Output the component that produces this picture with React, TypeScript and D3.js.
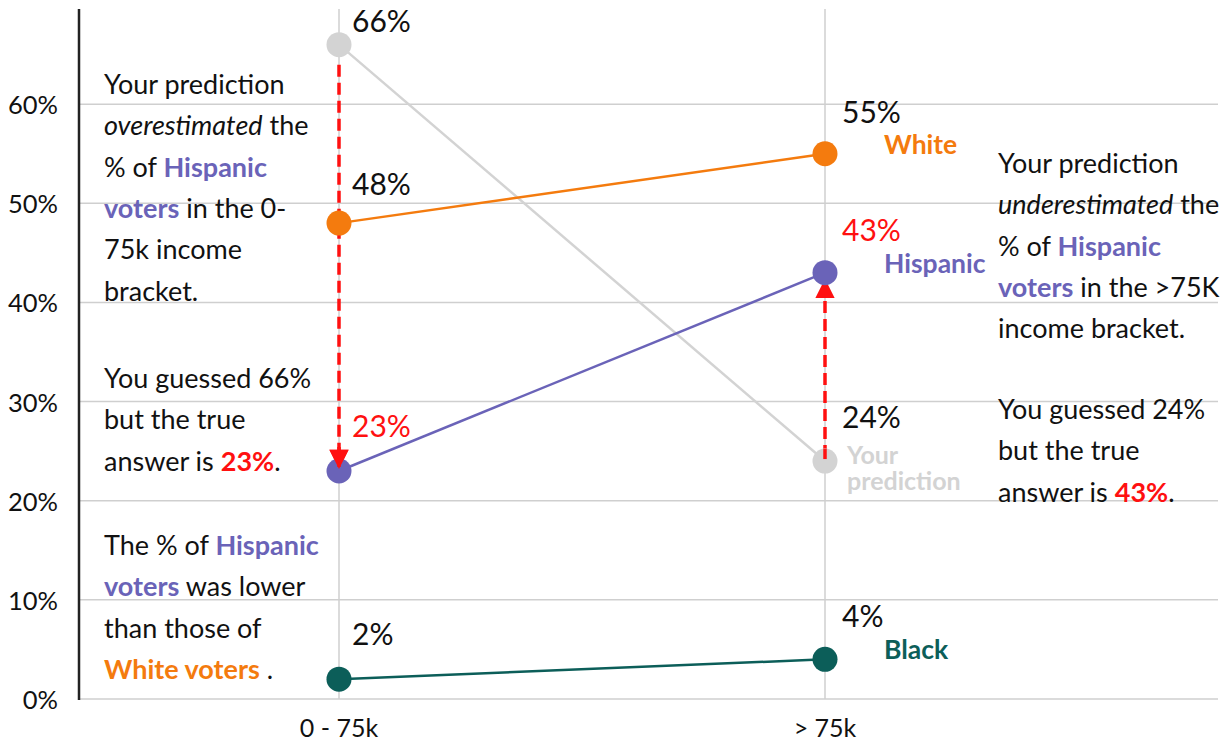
import * as d3 from 'd3';

const incomeBrackets = ['0 - 75k', '> 75k'];
const whiteShare = [48, 55];
const hispanicShare = [23, 43];
const blackShare = [2, 4];
const predictionShare = [66, 24];
const yTicks = [0, 10, 20, 30, 40, 50, 60];

const W = 1229;
const H = 742;
const FONT = 'Lato, "Open Sans", sans-serif';

const C = {
  white: '#f47b0e',
  hispanic: '#6a63b8',
  black: '#0c5e59',
  pred: '#d3d3d3',
  red: '#ff1010',
  grid: '#cfcfcf',
  text: '#111',
};

type Seg = { t: string; c?: string; b?: boolean; i?: boolean };

const leftNotes: Seg[][] = [
  [{ t: 'Your prediction' }],
  [{ t: 'overestimated', i: true }, { t: ' the' }],
  [{ t: '% of ' }, { t: 'Hispanic', c: C.hispanic, b: true }],
  [{ t: 'voters', c: C.hispanic, b: true }, { t: ' in the 0-' }],
  [{ t: '75k income' }],
  [{ t: 'bracket.' }],
];
const leftGuess: Seg[][] = [
  [{ t: 'You guessed 66%' }],
  [{ t: 'but the true' }],
  [{ t: 'answer is ' }, { t: '23%', c: C.red, b: true }, { t: '.' }],
];
const leftCompare: Seg[][] = [
  [{ t: 'The % of ' }, { t: 'Hispanic', c: C.hispanic, b: true }],
  [{ t: 'voters', c: C.hispanic, b: true }, { t: ' was lower' }],
  [{ t: 'than those of' }],
  [{ t: 'White voters', c: C.white, b: true }, { t: ' .' }],
];
const rightNotes: Seg[][] = [
  [{ t: 'Your prediction' }],
  [{ t: 'underestimated', i: true }, { t: ' the' }],
  [{ t: '% of ' }, { t: 'Hispanic', c: C.hispanic, b: true }],
  [{ t: 'voters', c: C.hispanic, b: true }, { t: ' in the >75K' }],
  [{ t: 'income bracket.' }],
];
const rightGuess: Seg[][] = [
  [{ t: 'You guessed 24%' }],
  [{ t: 'but the true' }],
  [{ t: 'answer is ' }, { t: '43%', c: C.red, b: true }, { t: '.' }],
];

function Para({ x, y, lines, lh = 41.3 }: { x: number; y: number; lines: Seg[][]; lh?: number }) {
  return (
    <g>
      {lines.map((line, li) => (
        <text key={li} x={x} y={y + li * lh} fontSize={27} fill={C.text} fontFamily={FONT}>
          {line.map((s, si) => (
            <tspan key={si} fill={s.c || C.text} fontWeight={s.b ? 700 : 400} fontStyle={s.i ? 'italic' : 'normal'}>
              {s.t}
            </tspan>
          ))}
        </text>
      ))}
    </g>
  );
}

export default function App() {
  const x = d3.scalePoint<string>().domain(incomeBrackets).range([339, 825]);
  const y = d3.scaleLinear().domain([0, 70]).range([699, 5]);
  const left = 79;
  const right = 1218;
  const top = y(69.6);

  const line = d3
    .line<number>()
    .x((_, i) => x(incomeBrackets[i]) as number);
  const path = (vals: number[]) => line.y((d) => y(d))(vals) || '';

  const series = [
    { key: 'pred', vals: predictionShare, color: C.pred },
    { key: 'white', vals: whiteShare, color: C.white },
    { key: 'hispanic', vals: hispanicShare, color: C.hispanic },
    { key: 'black', vals: blackShare, color: C.black },
  ];

  const x0 = x(incomeBrackets[0]) as number;
  const x1 = x(incomeBrackets[1]) as number;

  // value label offsets (dy from dot)
  const valueLabels = [
    { vals: predictionShare, color: C.text, dy: [-13, -33] },
    { vals: whiteShare, color: C.text, dy: [-28, -31] },
    { vals: hispanicShare, color: C.red, dy: [-34, -32] },
    { vals: blackShare, color: C.text, dy: [-34, -32] },
  ];

  return (
    <svg
      width={W}
      height={H}
      style={{ position: 'absolute', left: 0, top: 0, background: '#fff' }}
      fontFamily={FONT}
    >
      <defs>
        <marker id="ah" viewBox="0 0 10 10" refX="9" refY="5" markerWidth="6" markerHeight="5.5" orient="auto" markerUnits="strokeWidth">
          <path d="M0,0 L10,5 L0,10 z" fill={C.red} />
        </marker>
      </defs>

      {/* grid */}
      {yTicks.map((t) => (
        <g key={t}>
          <line x1={left} x2={right} y1={y(t)} y2={y(t)} stroke={C.grid} strokeWidth={1.5} />
          <text x={58} y={y(t) + 10} textAnchor="end" fontSize={25.5} fill={C.text}>
            {t}%
          </text>
        </g>
      ))}
      {incomeBrackets.map((b) => (
        <g key={b}>
          <line x1={x(b)} x2={x(b)} y1={top} y2={y(0)} stroke={C.grid} strokeWidth={1.5} />
          <text x={x(b)} y={737} textAnchor="middle" fontSize={25} fill={C.text}>
            {b}
          </text>
        </g>
      ))}
      <line x1={left} x2={left} y1={top} y2={y(0) + 1} stroke="#222" strokeWidth={2.5} />

      {/* lines */}
      {series.map((s) => (
        <path key={s.key} d={path(s.vals)} fill="none" stroke={s.color} strokeWidth={2.5} />
      ))}

      {/* arrows */}
      <line
        x1={x0}
        x2={x0}
        y1={y(predictionShare[0]) + 20}
        y2={y(hispanicShare[0]) - 4}
        stroke={C.red}
        strokeWidth={3.5}
        strokeDasharray="12 6"
        markerEnd="url(#ah)"
      />
      <line
        x1={x1}
        x2={x1}
        y1={y(predictionShare[1]) - 4}
        y2={y(hispanicShare[1]) + 8}
        stroke={C.red}
        strokeWidth={3.5}
        strokeDasharray="12 6"
        markerEnd="url(#ah)"
      />

      {/* dots */}
      {series.map((s) =>
        s.vals.map((v, i) => (
          <circle key={s.key + i} cx={x(incomeBrackets[i])} cy={y(v)} r={12.5} fill={s.color} />
        ))
      )}
      {/* redraw arrow tips above dots */}
      <line x1={x0} x2={x0} y1={y(hispanicShare[0]) - 24} y2={y(hispanicShare[0]) - 4} stroke={C.red} strokeWidth={3.5} markerEnd="url(#ah)" />
      <line x1={x1} x2={x1} y1={y(predictionShare[1]) - 2} y2={y(predictionShare[1]) - 12} stroke={C.red} strokeWidth={3.5} strokeDasharray="12 6" />

      {/* value labels */}
      {valueLabels.map((s, si) =>
        s.vals.map((v, i) => (
          <text
            key={si + '-' + i}
            x={(x(incomeBrackets[i]) as number) + (i === 0 ? 13 : 17)}
            y={y(v) + s.dy[i]}
            fontSize={30}
            fill={s.color}
          >
            {v}%
          </text>
        ))
      )}

      {/* series names */}
      <text x={x1 + 59} y={y(whiteShare[1])} fontSize={26.5} fontWeight={700} fill={C.white}>White</text>
      <text x={x1 + 59} y={y(hispanicShare[1])} fontSize={26.5} fontWeight={700} fill={C.hispanic}>Hispanic</text>
      <text x={x1 + 59} y={y(blackShare[1])} fontSize={26.5} fontWeight={700} fill={C.black}>Black</text>
      <text x={x1 + 22} y={y(predictionShare[1]) + 3} fontSize={25} fontWeight={700} fill={C.pred}>
        Your
      </text>
      <text x={x1 + 22} y={y(predictionShare[1]) + 29} fontSize={25} fontWeight={700} fill={C.pred}>
        prediction
      </text>

      {/* annotations */}
      <Para x={104} y={94} lines={leftNotes} />
      <Para x={104} y={388} lines={leftGuess} />
      <Para x={104} y={555} lines={leftCompare} />
      <Para x={998} y={173} lines={rightNotes} />
      <Para x={998} y={419} lines={rightGuess} />
    </svg>
  );
}
